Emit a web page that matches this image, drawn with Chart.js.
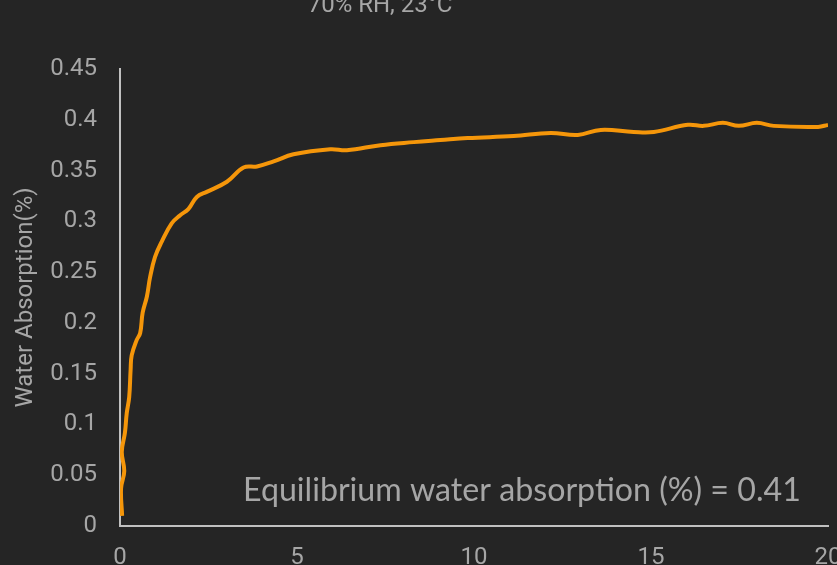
<!DOCTYPE html>
<html><head><meta charset="utf-8">
<script src="https://cdn.jsdelivr.net/npm/chart.js@4.4.1/dist/chart.umd.min.js"></script>
<style>html,body{margin:0;padding:0;background:#252525;overflow:hidden}#wrap{width:837px;height:565px;position:relative}</style>
</head><body><div id="wrap"><canvas id="c" width="837" height="565"></canvas></div>
<script>
const chartTitle = "70% RH, 23°C";
const yAxisTitle = "Water Absorption(%)";
const annotationText = "Equilibrium water absorption (%) = 0.41";
const xTickValues = [0, 5, 10, 15, 20];
const yTickValues = [0, 0.05, 0.1, 0.15, 0.2, 0.25, 0.3, 0.35, 0.4, 0.45];
const yTickLabels = ["0", "0.05", "0.1", "0.15", "0.2", "0.25", "0.3", "0.35", "0.4", "0.45"];
const timeDays = [0.06, 0.03, 0.12, 0.05, 0.14, 0.19, 0.26, 0.30, 0.33, 0.47, 0.57, 0.64, 0.76, 0.85, 0.99, 1.18, 1.46, 1.70, 1.93, 2.17, 2.45, 3.02, 3.49, 3.87, 4.34, 4.90, 5.94, 6.41, 7.36, 8.30, 9.05, 9.82, 11.12, 12.16, 12.93, 13.58, 14.51, 15.08, 16.04, 16.49, 17.03, 17.48, 17.99, 18.47, 19.72, 20.0];
const absorption = [0.010, 0.037, 0.054, 0.073, 0.092, 0.111, 0.127, 0.154, 0.168, 0.183, 0.190, 0.210, 0.226, 0.245, 0.265, 0.280, 0.298, 0.306, 0.312, 0.324, 0.329, 0.339, 0.353, 0.354, 0.359, 0.366, 0.371, 0.370, 0.375, 0.378, 0.380, 0.382, 0.384, 0.387, 0.385, 0.390, 0.388, 0.388, 0.395, 0.394, 0.397, 0.394, 0.397, 0.394, 0.393, 0.395];

const points = timeDays.map((x, i) => ({x: x, y: absorption[i]}));
const textColor = '#a6a6a6';
const axisColor = '#c0c0c0';

const bgPlugin = {
  id: 'bg',
  beforeDraw(chart) {
    const ctx = chart.ctx;
    ctx.save();
    ctx.fillStyle = '#252525';
    ctx.fillRect(0, 0, chart.width, chart.height);
    ctx.restore();
  },
  afterDraw(chart) {
    const ctx = chart.ctx;
    ctx.save();
    ctx.fillStyle = textColor;
    ctx.font = '24px Roboto';
    ctx.textAlign = 'center';
    ctx.textBaseline = 'alphabetic';
    ctx.fillText(chartTitle, 380, 12);
    let size = 30;
    ctx.font = size + 'px Lato';
    const w = ctx.measureText(annotationText).width;
    size = size * 558 / w;
    ctx.font = size.toFixed(2) + 'px Lato';
    ctx.textAlign = 'left';
    ctx.fillText(annotationText, 243, 501);
    ctx.restore();
  }
};

new Chart(document.getElementById('c'), {
  type: 'scatter',
  data: {
    datasets: [{
      data: points,
      showLine: true,
      borderColor: '#f5960a',
      borderWidth: 4,
      pointRadius: 0,
      tension: 0.4,
      fill: false
    }]
  },
  options: {
    responsive: false,
    animation: false,
    devicePixelRatio: 1,
    layout: {padding: {top: 69, right: 9, bottom: 0, left: 0}},
    plugins: {legend: {display: false}, tooltip: {enabled: false}},
    scales: {
      x: {
        type: 'linear', min: 0, max: 20,
        grid: {display: false, drawTicks: false},
        border: {display: true, color: axisColor, width: 2},
        ticks: {color: textColor, font: {family: 'Roboto', size: 24}, padding: 18, maxRotation: 0},
        afterBuildTicks(s) { s.ticks = xTickValues.map(v => ({value: v})); },
        afterFit(s) { s.height = 39; s.paddingLeft = 0; s.paddingRight = 0; }
      },
      y: {
        type: 'linear', min: 0, max: 0.45,
        grid: {display: false, drawTicks: false},
        border: {display: true, color: axisColor, width: 2},
        ticks: {
          color: textColor, font: {family: 'Roboto', size: 24}, padding: 23,
          callback: (v, i) => yTickLabels[i]
        },
        title: {display: true, text: yAxisTitle, color: textColor, font: {family: 'Roboto', size: 24}, padding: {top: 12, bottom: 0}},
        afterBuildTicks(s) { s.ticks = yTickValues.map(v => ({value: v})); },
        afterFit(s) { s.width = 120; s.paddingTop = 0; s.paddingBottom = 0; }
      }
    }
  },
  plugins: [bgPlugin]
});
</script></body></html>
